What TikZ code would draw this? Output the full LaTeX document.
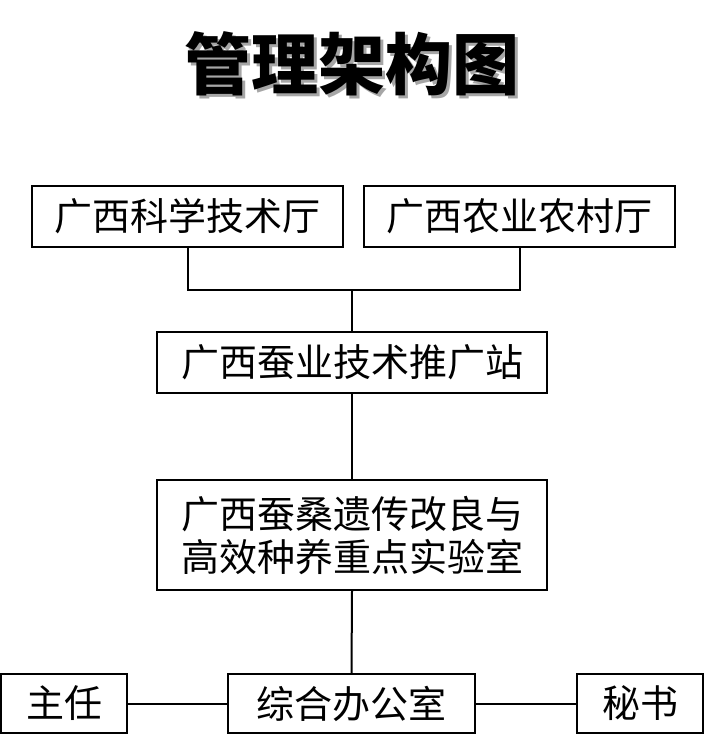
\documentclass[tikz,border=0pt]{standalone}
\usepackage{fontspec}
\newfontfamily\cjk{Noto Sans CJK SC}
\newfontfamily\cjkbold{Noto Sans CJK SC}[BoldFont={* Black}]
\usepackage{tikz}
\usetikzlibrary{positioning}

\begin{document}
\begin{tikzpicture}[x=1pt,y=-1pt,
    box/.style={shape=rectangle, draw, line width=2pt, inner sep=0pt, align=center,
      font=\cjk\fontsize{38}{43}\selectfont},
    link/.style={line width=2pt}]
    \useasboundingbox (0,0) rectangle (704,749);

    % title, grey shadow set under the same text
    \node (title) at (352,65) {\cjk\fontsize{67}{72}\selectfont\bfseries
      \rlap{\kern3pt\raisebox{-3pt}{\color{black!35}管理架构图}}管理架构图};

    \node[box, minimum width=311, minimum height=61] (kj) at (187.5,216.5) {广西科学技术厅};
    \node[box, minimum width=311, minimum height=61] (ny) at (519.5,216.5) {广西农业农村厅};
    \node[box, minimum width=390, minimum height=61] (tg) at (352,362.5) {广西蚕业技术推广站};
    \node[box, minimum width=390, minimum height=110] (lab) at (352,535) {广西蚕桑遗传改良与\\高效种养重点实验室};

    \node[box, minimum width=247, minimum height=59] (office) at (351.5,703.5) {综合办公室};
    \node[box, minimum width=126, minimum height=59] (zr) at (64,703.5) {主任};
    \node[box, minimum width=126, minimum height=59] (ms) at (640,703.5) {秘书};

    \coordinate (join) at (352,290);
    \draw[link] (kj.south) |- (join) -| (ny.south);
    \draw[link] (join) -- (tg.north);
    \draw[link] (tg.south) -- (lab.north);
    \draw[link] (lab.south) -- (office.north);
    \draw[link] (zr.east) -- (office.west);
    \draw[link] (office.east) -- (ms.west);
  \end{tikzpicture}
\end{document}
